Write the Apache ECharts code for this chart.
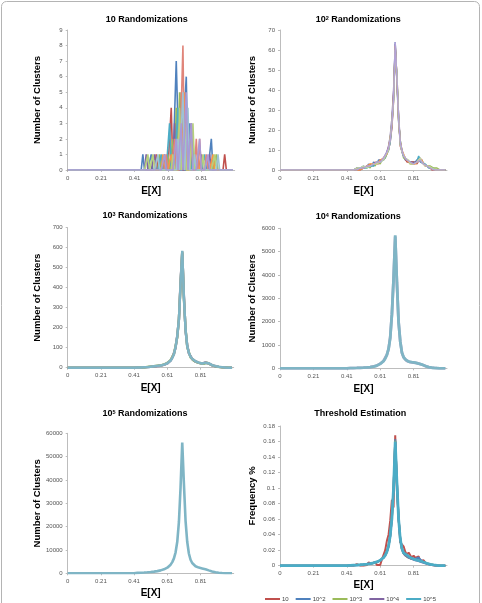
<!DOCTYPE html>
<html>
<head>
<meta charset="utf-8">
<script src="https://cdn.jsdelivr.net/npm/echarts@6/dist/echarts.min.js"></script>
<style>
html,body{margin:0;padding:0;background:#fff}
#main{width:482px;height:603px}
</style>
</head>
<body>
<div id="main"></div>
<script>
// E[X] positions shared by every curve (axis units)
var E_X = [0,
  0.40,0.41,0.42,0.43,0.44,0.45,0.46,0.47,0.48,0.49,
  0.50,0.51,0.52,0.53,0.54,0.55,0.56,0.57,0.58,0.59,
  0.60,0.61,0.62,0.63,0.64,0.65,0.66,0.67,0.68,0.69,
  0.70,0.71,0.72,0.73,0.74,0.75,0.76,0.77,0.78,0.79,
  0.80,0.81,0.82,0.83,0.84,0.85,0.86,0.87,0.88,0.89,
  0.90,0.91,0.92,0.93,0.94,0.95,0.96,0.97,0.98,0.99];

var X_TICK_POS = [0, 0.2, 0.4, 0.6, 0.8];
var X_TICK_LABELS = ['0', '0.21', '0.41', '0.61', '0.81'];

var TITLES = [
  '{n|10 Randomizations}',
  '{n|10}{s|2}{n| Randomizations}',
  '{n|10}{s|3}{n| Randomizations}',
  '{n|10}{s|4}{n| Randomizations}',
  '{n|10}{s|5}{n| Randomizations}',
  '{n|Threshold Estimation}'
];
var Y_NAMES = ['Number of Clusters','Number of Clusters','Number of Clusters','Number of Clusters','Number of Clusters','Frequency %'];
var Y_MAX = [9, 70, 700, 6000, 60000, 0.18];
var Y_STEP = [1, 10, 100, 1000, 10000, 0.02];

// ---- 10 randomizations
var P1 = [
 [0, 0,0,0,0,0,1,0,0,0,0, 1,0,0,0,0,0,0,0,1,0, 0,0,1,0,0,7,3,0,0,0, 4,6,0,3,0,2,0,0,0,0, 0,0,0,0,0,0,2,0,0,0, 0,0,0,0,0,0,0,0,0,0],
 [0, 0,0,0,0,0,0,0,0,0,0, 0,0,0,1,0,0,0,0,0,0, 0,0,4,0,0,0,2,0,5,0, 0,0,3,0,0,0,0,0,1,0, 0,0,0,0,0,0,0,0,0,0, 0,0,0,0,1,0,0,0,0,0],
 [0, 0,0,0,0,0,0,0,0,0,0, 0,0,0,0,0,1,0,0,0,0, 1,0,0,2,0,4,0,5,0,3, 0,2,0,0,0,0,1,0,0,0, 0,0,0,0,0,0,0,0,0,1, 0,0,0,0,0,0,0,0,0,0],
 [0, 0,0,0,0,0,0,0,1,0,0, 0,0,1,0,0,0,0,0,0,0, 0,0,0,0,3,0,0,0,4,0, 0,0,3,0,3,0,0,0,0,0, 1,0,0,0,0,1,0,0,0,0, 0,0,0,0,0,0,0,0,0,0],
 [0, 0,0,0,0,0,0,0,0,0,0, 0,0,0,0,0,0,1,0,0,0, 0,3,0,0,0,0,4,0,0,2, 0,0,0,2,0,0,0,0,0,0, 0,0,1,0,0,0,0,0,0,0, 0,0,0,0,0,0,0,0,0,0],
 [0, 0,0,0,0,0,0,0,0,0,0, 0,0,0,0,0,0,0,1,0,0, 0,0,1,0,0,0,0,3,0,0, 5,0,0,0,2,0,0,0,1,0, 0,0,0,0,0,0,0,1,0,0, 0,0,0,0,0,0,0,0,0,0],
 [0, 0,0,0,0,0,0,0,0,0,0, 0,0,0,0,0,0,0,0,0,1, 0,0,0,0,2,0,0,0,0,8, 0,3,0,0,0,0,0,2,0,2, 0,0,0,1,0,0,0,0,0,0, 0,0,0,0,0,0,0,0,0,0],
 [0, 0,0,0,0,0,0,0,0,1,0, 0,1,0,0,0,0,0,0,0,0, 0,0,0,1,0,0,0,4,0,0, 3,0,0,0,0,3,0,0,0,0, 0,1,0,0,0,0,0,0,1,0, 0,0,0,0,0,0,0,0,0,0],
 [0, 0,0,0,0,0,0,0,0,0,0, 0,0,0,0,1,0,0,0,0,0, 0,0,0,0,0,0,2,0,0,5, 0,0,4,0,0,0,1,0,0,0, 0,0,0,0,0,0,0,0,0,0, 1,0,0,0,0,0,0,0,0,0],
 [0, 0,0,0,0,0,0,0,0,0,0, 0,0,0,0,0,0,0,0,1,0, 0,0,0,0,0,2,0,0,3,0, 0,5,0,0,3,0,0,0,0,2, 0,0,0,0,1,0,0,0,0,0, 0,0,0,0,0,0,0,0,0,0]
];
var P1_COLORS = ['#4f81bd','#c0504d','#9bbb59','#8064a2','#4bacc6','#f79646','#e0857a','#b7d17c','#9dc3d4','#a99ad6'];

// ---- 10^2 randomizations
var P2 = [
 [0, 0,0,0,0,0,0,1,0,1,1, 2,1,1,3,2,2,4,3,3,5, 4,5,6,6,9,11,16,23,38,64, 44,24,15,9,8,5,6,4,3,4, 3,4,5,6,4,5,3,3,2,1, 1,1,0,1,0,0,0,0,0,0],
 [0, 0,0,0,0,0,1,0,1,0,1, 1,2,2,1,3,2,2,4,3,3, 5,4,5,7,8,10,14,21,34,60, 48,27,12,11,7,7,4,5,4,3, 4,3,3,4,6,4,4,2,3,2, 1,0,1,0,0,0,0,0,0,0],
 [0, 0,0,0,0,0,0,0,1,1,0, 1,1,2,2,1,3,3,2,4,3, 3,5,6,6,8,10,15,24,36,62, 46,25,15,10,6,6,5,5,3,4, 3,3,4,5,5,4,3,3,2,2, 2,1,1,0,1,0,0,0,0,0],
 [0, 0,0,0,0,0,0,1,1,0,1, 1,1,2,2,2,2,3,3,3,4, 4,4,6,7,9,12,17,26,40,63, 45,28,14,9,8,6,5,4,4,3, 3,4,4,5,5,5,3,3,2,2, 1,1,0,0,0,0,0,0,0,0],
 [0, 0,0,0,0,0,0,0,0,1,1, 1,2,1,2,2,3,2,3,4,3, 4,5,5,6,8,10,14,22,35,61, 47,26,13,10,7,6,5,4,4,4, 3,3,4,7,6,4,4,3,2,1, 1,1,1,0,0,0,0,0,0,0],
 [0, 0,0,0,0,0,0,0,1,0,1, 1,1,2,2,3,2,3,3,3,4, 5,4,6,6,8,11,16,22,37,62, 45,25,14,10,8,6,5,4,4,3, 3,3,4,5,5,5,3,3,2,2, 1,1,0,1,0,0,0,0,0,0],
 [0, 0,0,0,0,0,0,1,0,1,1, 2,1,1,2,2,2,3,4,3,4, 4,5,5,7,8,10,16,24,35,60, 48,27,13,9,8,6,5,5,3,4, 3,3,4,5,6,4,3,2,2,2, 1,1,1,0,0,0,0,0,0,0],
 [0, 0,0,0,0,0,0,0,1,1,1, 1,1,2,1,2,3,3,3,4,4, 4,5,6,7,9,11,15,23,36,64, 46,26,14,10,7,6,5,4,4,3, 3,4,4,5,5,4,3,3,2,2, 1,1,0,0,0,0,0,0,0,0]
];
var P2_COLORS = ['#4f81bd','#c0504d','#9bbb59','#8064a2','#4bacc6','#f79646','#c4d79b','#b3a2d8'];

// ---- 10^3 randomizations
var P3 = [
 [0, 0,0,1,0,1,1,2,2,3,3, 4,6,6,9,8,11,10,14,14,19, 21,30,35,52,72,100,160,240,430,575, 360,185,112,72,58,42,39,30,30,24, 24,20,22,26,28,20,18,12,11,7, 7,4,4,2,2,1,0,0,0,0],
 [0, 0,1,0,1,2,2,1,3,4,3, 6,5,8,7,10,9,12,12,16,17, 24,26,38,46,70,108,152,245,415,580, 345,195,104,78,52,46,35,33,27,26, 22,22,19,23,25,23,16,14,9,8, 5,5,3,3,1,1,1,0,0,0],
 [0, 0,0,0,1,1,2,3,2,3,5, 5,7,7,8,9,11,11,13,15,20, 23,28,37,50,66,106,155,238,425,582, 355,188,110,74,56,45,36,33,29,25, 23,21,20,25,27,22,17,13,10,9, 6,4,4,3,2,1,1,0,0,0],
 [0, 0,0,1,1,1,2,2,3,3,4, 5,6,7,8,9,10,11,13,15,18, 22,28,36,48,68,104,158,242,420,585, 350,190,108,75,55,44,37,32,28,25, 23,21,20,24,26,22,17,13,10,8, 6,5,4,3,2,1,1,0,0,0]
];
var P3_COLORS = ['#8064a2','#9bbb59','#a6a6a6','#7fb5c5'];

// ---- 10^4 randomizations
var P4 = [
 [0, 0,3,6,7,10,11,15,17,21,23, 29,32,40,44,54,60,78,90,118,142, 195,235,315,400,580,820,1330,2300,3850,5650, 3680,2000,1150,680,470,385,315,295,265,262, 248,245,222,208,182,162,128,102,70,52, 33,25,15,11,5,3,1,0,0,0],
 [0, 0,3,5,7,9,12,14,17,20,24, 28,33,38,45,52,62,75,92,115,145, 190,240,310,410,570,830,1300,2320,3800,5700, 3700,1980,1160,670,480,380,320,290,270,260, 250,240,225,205,185,160,130,100,72,50, 35,24,16,10,6,3,1,0,0,0]
];
var P4_COLORS = ['#a9a0c0','#7fb5c5'];

// ---- 10^5 randomizations
var P5 = [
 [0, 0,150,180,210,240,280,320,370,420,480, 550,630,720,820,940,1080,1250,1450,1700,2000, 2400,2950,3700,4800,6400,9000,13500,22000,37000,56000, 38500,22500,13500,8500,5800,4400,3600,3050,2750,2450, 2250,2100,1950,1750,1500,1250,1000,780,590,430, 310,220,150,100,60,30,12,0,0,0]
];
var P5_COLORS = ['#7fb5c5'];

// ---- threshold estimation (frequency)
var FREQ_NAMES = ['10','10^2','10^3','10^4','10^5'];
var FREQ_10 = [0, 0,0,0,0,0,0,0.002,0,0,0.001, 0,0.002,0.001,0.004,0.002,0.003,0.004,0.005,0.001,0.002, 0.001,0.008,0.006,0.02,0.032,0.04,0.058,0.085,0.075,0.168, 0.098,0.062,0.03,0.028,0.025,0.018,0.014,0.017,0.015,0.01, 0.013,0.01,0.008,0.012,0.006,0.008,0.007,0.004,0.005,0.002, 0.003,0.001,0.002,0,0.002,0,0,0,0,0];
var FREQ_10_2 = [0, 0,0,0,0,0,0,0.0005,0.0006,0.0008,0.001, 0.0013,0.0016,0.0018,0.0022,0.0026,0.0031,0.0036,0.0042,0.0048,0.0058, 0.0066,0.0085,0.0102,0.0138,0.0178,0.0255,0.038,0.062,0.102,0.163, 0.11,0.062,0.036,0.022,0.0165,0.0132,0.0115,0.0105,0.0098,0.009, 0.0082,0.0088,0.0095,0.0105,0.0078,0.006,0.0048,0.0036,0.0028,0.0021, 0.0016,0.0012,0.0008,0.0005,0.0003,0.0001,0,0,0,0];
var FREQ_10_3 = [0, 0,0.0003,0.0005,0.0006,0.0007,0.0008,0.001,0.0011,0.0013,0.0014, 0.0016,0.0018,0.002,0.0024,0.0026,0.003,0.0035,0.0042,0.0048,0.0058, 0.007,0.0085,0.0104,0.0135,0.018,0.0252,0.039,0.061,0.101,0.161, 0.108,0.061,0.035,0.0215,0.0158,0.0133,0.0116,0.0104,0.0096,0.0088, 0.0084,0.0077,0.0072,0.0067,0.0062,0.0054,0.0046,0.0037,0.003,0.0023, 0.0018,0.0014,0.001,0.0007,0.0004,0.0002,0.0001,0,0,0];
var FREQ_10_4 = [0, 0,0.0004,0.0005,0.0006,0.0007,0.0008,0.0009,0.0011,0.0012,0.0014, 0.0016,0.0019,0.0021,0.0024,0.0027,0.0031,0.0036,0.0042,0.0049,0.0057, 0.0069,0.0085,0.0105,0.0134,0.018,0.025,0.0385,0.0605,0.1005,0.1598, 0.1075,0.0605,0.0345,0.0215,0.016,0.0134,0.0117,0.0104,0.0095,0.0085, 0.0078,0.0071,0.0066,0.006,0.0053,0.0045,0.0037,0.003,0.0023,0.0018, 0.0014,0.001,0.0007,0.0004,0.0002,0.0001,0,0,0,0];
var FREQ_10_5 = [0, 0,0.0004,0.0005,0.0006,0.0007,0.0008,0.0009,0.0011,0.0012,0.0014, 0.0016,0.0018,0.0021,0.0023,0.0027,0.0031,0.0036,0.0041,0.0049,0.0057, 0.0069,0.0084,0.0105,0.0134,0.0179,0.0251,0.0387,0.0607,0.1003,0.16, 0.1077,0.0607,0.0347,0.0222,0.0165,0.016,0.0135,0.0118,0.0105,0.0095, 0.0085,0.0078,0.0071,0.0066,0.006,0.0053,0.0045,0.0037,0.003,0.0023, 0.0018,0.0014,0.001,0.0007,0.0004,0.0002,0.0001,0,0,0];
var FREQ_COLORS = ['#c0504d','#4f81bd','#9bbb59','#8064a2','#4bacc6'];

var FONT = '"Liberation Sans", Arial, sans-serif';
var myChart = echarts.init(document.getElementById('main'));

// plot areas (left, top, width, height), name gaps, title anchors
var boxes = [
  {l:67.7, t:30,    w:167, h:140,   yGap:25, xGap:16, tx:141.7, ty:10},
  {l:280,  t:30,    w:167, h:140,   yGap:23, xGap:16, tx:353.3, ty:10},
  {l:67.7, t:227.7, w:166, h:140,   yGap:25, xGap:15.5, tx:140, ty:206.5},
  {l:280,  t:228.3, w:167, h:140,   yGap:23, xGap:16, tx:353.3, ty:207},
  {l:67.7, t:433.3, w:166, h:140,   yGap:25, xGap:15, tx:140, ty:404},
  {l:280,  t:426,   w:167, h:139.7, yGap:23, xGap:15, tx:355.3, ty:404}
];

function pairs(ys) {
  return E_X.map(function (x, i) { return [x, ys[i]]; });
}
function line(gi, ys, color, width, name) {
  return {
    type: 'line', name: name, xAxisIndex: gi, yAxisIndex: gi,
    data: pairs(ys), symbol: 'none', showSymbol: false, silent: true,
    lineStyle: {color: color, width: width}, itemStyle: {color: color},
    animation: false
  };
}

var series = [];
P1.forEach(function (ys, i) { series.push(line(0, ys, P1_COLORS[i], 1.6)); });
P2.forEach(function (ys, i) { series.push(line(1, ys, P2_COLORS[i], 1.4)); });
P3.forEach(function (ys, i) { series.push(line(2, ys, P3_COLORS[i], 2.4)); });
P4.forEach(function (ys, i) { series.push(line(3, ys, P4_COLORS[i], 2.8)); });
P5.forEach(function (ys, i) { series.push(line(4, ys, P5_COLORS[i], 2.6)); });
[FREQ_10, FREQ_10_2, FREQ_10_3, FREQ_10_4, FREQ_10_5].forEach(function (ys, i) {
  series.push(line(5, ys, FREQ_COLORS[i], i === 4 ? 2.8 : 2, FREQ_NAMES[i]));
});

var option = {
  backgroundColor: '#fff',
  animation: false,
  textStyle: {fontFamily: FONT},
  title: boxes.map(function (b, i) {
    return {
      text: TITLES[i], left: b.tx, top: b.ty, textAlign: 'center',
      textStyle: {rich: {
        n: {fontSize: 9, fontWeight: 'bold', color: '#000', fontFamily: FONT},
        s: {fontSize: 5.5, fontWeight: 'bold', color: '#000', fontFamily: FONT, verticalAlign: 'top'}
      }}
    };
  }),
  legend: {
    data: FREQ_NAMES, left: 265, top: 596, padding: 0, icon: 'rect',
    itemWidth: 15, itemHeight: 2, itemGap: 7,
    textStyle: {fontSize: 6, color: '#444', fontFamily: FONT, padding: [0, 0, 0, -3]}
  },
  grid: boxes.map(function (b) {
    return {left: b.l, top: b.t, width: b.w, height: b.h, containLabel: false, outerBoundsMode: 'none'};
  }),
  xAxis: boxes.map(function (b, i) {
    return {
      type: 'value', gridIndex: i, min: 0, max: 1,
      name: 'E[X]', nameLocation: 'middle', nameGap: b.xGap,
      nameTextStyle: {fontSize: 10, fontWeight: 'bold', color: '#000', fontFamily: FONT},
      axisLine: {show: true, lineStyle: {color: '#bdbdbd', width: 1}},
      axisTick: {show: true, length: 2, customValues: X_TICK_POS, lineStyle: {color: '#bdbdbd'}},
      axisLabel: {
        customValues: X_TICK_POS, fontSize: 6, color: '#555', margin: 5, fontFamily: FONT,
        formatter: function (v) {
          var k = 0;
          X_TICK_POS.forEach(function (p, j) { if (Math.abs(p - v) < Math.abs(X_TICK_POS[k] - v)) k = j; });
          return X_TICK_LABELS[k];
        }
      },
      splitLine: {show: false}
    };
  }),
  yAxis: boxes.map(function (b, i) {
    return {
      type: 'value', gridIndex: i, min: 0, max: Y_MAX[i], interval: Y_STEP[i],
      name: Y_NAMES[i], nameLocation: 'middle', nameGap: b.yGap,
      nameTextStyle: {fontSize: 9.5, fontWeight: 'bold', color: '#000', fontFamily: FONT},
      axisLine: {show: true, lineStyle: {color: '#bdbdbd', width: 1}},
      axisTick: {show: true, length: 2, lineStyle: {color: '#bdbdbd'}},
      axisLabel: {
        fontSize: 6, color: '#555', margin: 5, fontFamily: FONT,
        formatter: function (v) { return String(+v.toFixed(2)); }
      },
      splitLine: {show: false}
    };
  }),
  graphic: [{
    type: 'rect', silent: true, z: -10,
    shape: {x: 1.5, y: 1.5, width: 478, height: 612, r: 5},
    style: {fill: 'none', stroke: '#b4b4b4', lineWidth: 1}
  }],
  series: series
};

myChart.setOption(option);
</script>
</body>
</html>
